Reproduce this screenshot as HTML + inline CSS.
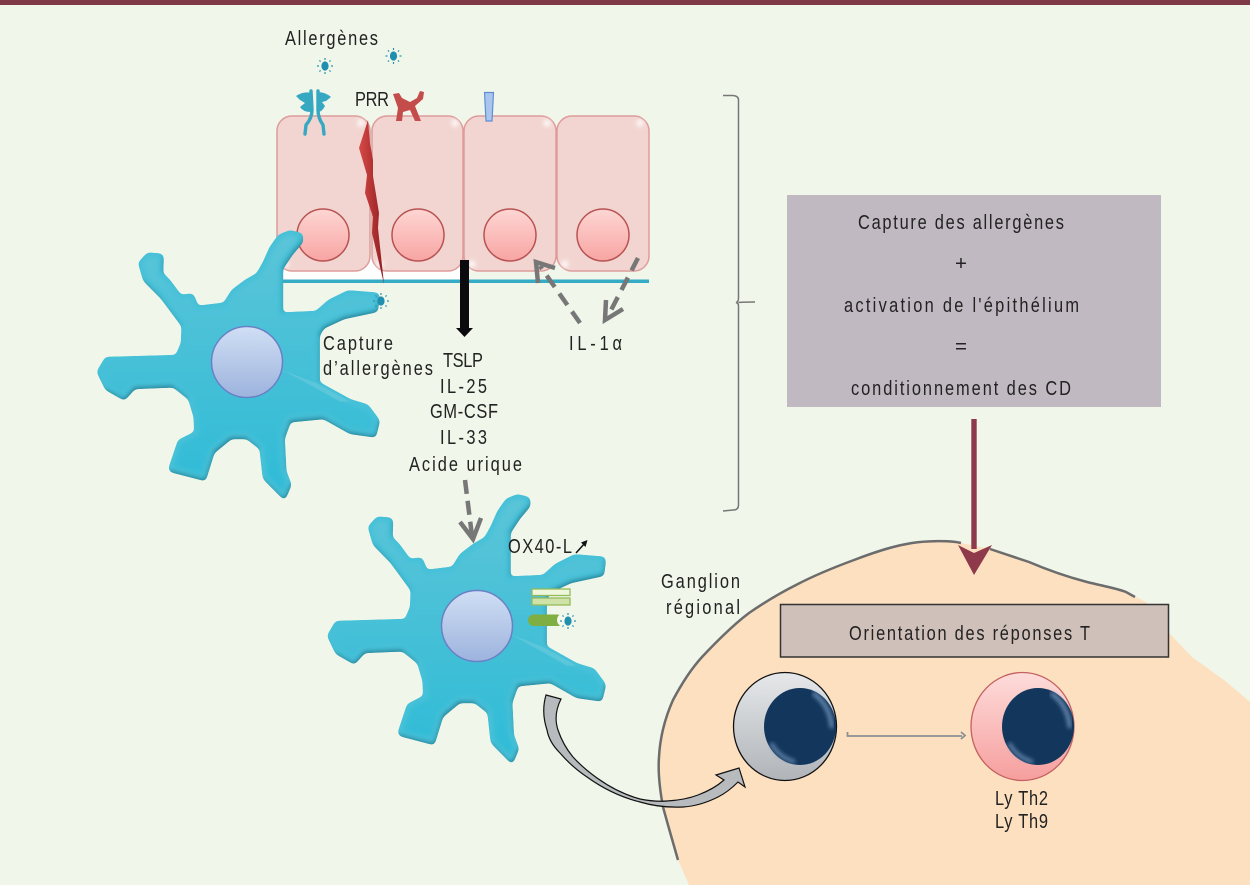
<!DOCTYPE html>
<html lang="fr"><head><meta charset="utf-8"><title>Capture des allergènes</title>
<style>
html,body{margin:0;padding:0;background:#f0f6e9}
svg{display:block}
text{font-family:"Liberation Sans",sans-serif;font-size:20.5px;fill:#222}
</style></head><body>
<svg width="1250" height="885" viewBox="0 0 1250 885" xmlns="http://www.w3.org/2000/svg">
<defs>
<linearGradient id="cy" x1="0" y1="0" x2="0" y2="1"><stop offset="0" stop-color="#5cc5d8"/><stop offset="1" stop-color="#2fbbd7"/></linearGradient>
<linearGradient id="nu" x1="0" y1="0" x2="0" y2="1"><stop offset="0" stop-color="#d0dff4"/><stop offset="1" stop-color="#9db3dd"/></linearGradient>
<linearGradient id="pk" x1="0" y1="0" x2="0" y2="1"><stop offset="0" stop-color="#fdd6d3"/><stop offset="1" stop-color="#f8a5a3"/></linearGradient>
<linearGradient id="gy" x1="0" y1="0" x2="0" y2="1"><stop offset="0" stop-color="#e6e8ea"/><stop offset="1" stop-color="#b0b4b8"/></linearGradient>
<linearGradient id="lp" x1="0" y1="0" x2="0" y2="1"><stop offset="0" stop-color="#fddcda"/><stop offset="1" stop-color="#f69f9e"/></linearGradient>
<linearGradient id="cr" x1="0" y1="0" x2="1" y2="0"><stop offset="0" stop-color="#d84a46"/><stop offset="1" stop-color="#8f1f22"/></linearGradient>
<filter id="b2"><feGaussianBlur stdDeviation="2"/></filter>
<filter id="goo" x="-5%" y="-5%" width="110%" height="110%" color-interpolation-filters="sRGB"><feGaussianBlur stdDeviation="2"/><feColorMatrix values="1 0 0 0 0 0 1 0 0 0 0 0 1 0 0 0 0 0 14 -6"/></filter>
<path id="dc" d="M630,45 L600,38 L570,50 L545,85 L525,130 L505,165 L470,185 L430,215 L405,255 L320,265 L305,228 L270,232 L235,185 L210,160 L212,108 L175,105 L152,130 L165,175 L215,225 L282,315 L280,370 L262,412 L50,418 L28,455 L50,500 L100,528 L130,495 L250,490 L300,530 L318,590 L320,640 L270,665 L243,745 L340,770 L365,690 L420,645 L470,645 L515,680 L525,770 L580,825 L595,790 L580,750 L575,650 L595,595 L700,585 L780,630 L850,640 L860,600 L830,560 L780,545 L680,490 L680,340 L695,315 L760,285 L855,265 L860,225 L775,218 L720,245 L680,280 L570,285 L570,140 L600,95 L630,60 Z"/>
<g id="al">
<ellipse cx="0" cy="0" rx="3.6" ry="4.6" fill="#1f8fb0"/>
<path d="M0,-8V-6M0,8V6M-8,0H-6M8,0H6M-5.6,-5.6L-4.4,-4.4M5.6,-5.6L4.4,-4.4M-5.6,5.6L-4.4,4.4M5.6,5.6L4.4,4.4" stroke="#2a93ad" stroke-width="1.2"/>
</g>
</defs>

<rect width="1250" height="885" fill="#f0f6e9"/>
<rect width="1250" height="5" fill="#7f3a48"/>

<!-- ganglion -->
<path d="M689,885 L678,860 L663,807 L659,757 L664,725 L673,700 L702,657 L749,613 L796,585 L854,560 L912,543 L940,541 L961,543 L990,549 L1029,562 L1087,582 L1126,592 L1146,602 L1169,633 L1192,657 L1224,680 L1250,702 L1250,885 Z" fill="#fde0c0"/>
<path d="M678,860 L668,825 L663,807 C659,785 658,770 659,757 C660,738 665,718 673,700 C682,683 692,668 702,657 C718,640 733,625 749,613 C765,602 780,593 796,585 C815,575 835,567 854,560 C875,552 893,546 912,543 C925,541 950,540 961,543" fill="none" stroke="#6c6c6c" stroke-width="2.5"/>
<path d="M990,549 L1029,562 C1050,571 1068,577 1087,582 C1103,586 1116,588 1126,592 L1135,597" fill="none" stroke="#6c6c6c" stroke-width="2.5"/>

<!-- white band -->
<rect x="280" y="255" width="185" height="25" fill="#fff"/>

<!-- epithelial cells -->
<g fill="#f2d5d1" stroke="#dd9c9b" stroke-width="1.5">
<rect x="277" y="116" width="93" height="155" rx="15"/>
<rect x="372" y="116" width="91" height="155" rx="15"/>
<rect x="464" y="116" width="92" height="155" rx="15"/>
<rect x="557" y="116" width="92" height="155" rx="15"/>
</g>
<g fill="#fff" filter="url(#b2)" opacity=".9">
<circle cx="361" cy="123" r="3.5"/><circle cx="455" cy="123" r="3.5"/><circle cx="547" cy="123" r="3.5"/><circle cx="640" cy="123" r="3.5"/>
<circle cx="285" cy="264" r="3.5"/><circle cx="380" cy="264" r="3.5"/><circle cx="472" cy="264" r="3.5"/><circle cx="565" cy="264" r="3.5"/>
</g>
<g fill="url(#pk)" stroke="#b85353" stroke-width="1.5">
<circle cx="323" cy="235" r="26"/><circle cx="418" cy="235" r="26"/><circle cx="510" cy="235" r="26"/><circle cx="603" cy="235" r="26"/>
</g>
<rect x="280" y="279.500" width="369" height="3.500" fill="#35abc6"/>

<!-- crack -->
<polygon points="368,120 359,148 367,175 365,193 373,217 372,233 384,284 378,228 379,213 373,176 373,160 370,143" fill="url(#cr)"/>

<!-- receptors -->
<g fill="none" stroke="#37a8c2" stroke-width="3.4" stroke-linecap="round" stroke-linejoin="round">
<path d="M311,91 L312,110 Q312,118 306,125 L305,134"/>
<path d="M318,91 L318,110 Q318,118 323,125 L324,134"/>
</g>
<g fill="#37a8c2">
<path d="M296,96 Q304,91 311,93 L311,112 Q303,112 300,107 L305,103 L300,100 Z"/>
<path d="M318,92 Q325,92 331,97 L326,101 L322,102 L325,106 Q322,112 318,112 Z"/>
</g>
<path d="M393,94 L399,93 L402,98 L410,102 L417,98 L420,91 L424,92 L423,99 L415,106 L421,121 L415,121 L410,110 L403,112 L402,121 L396,121 L398,108 Z" fill="#c44d4c"/>
<polygon points="484.500,92.500 493.500,92.500 492,121 486,121" fill="#a9c7ee" stroke="#5f8fd2" stroke-width="1.200"/>

<!-- black arrow -->
<polygon points="460,260 469,260 469,328 473,328 464.500,337 456,328 460,328" fill="#0b0b0e"/>

<!-- DC1 -->
<g filter="url(#goo)">
<g transform="translate(90,220) scale(.33333)">
<use href="#dc" fill="#1d6f84" stroke="#1d6f84" stroke-width="14" stroke-linejoin="round" transform="translate(2,5)"/>
<use href="#dc" fill="url(#cy)" stroke="#47c1d8" stroke-width="14" stroke-linejoin="round"/>
</g>
</g>
<g transform="translate(90,220) scale(.33333)"><path d="M578,450 L680,490 L780,545 L750,545 L660,495 Z" fill="#6ccbdc" opacity=".6"/></g>
<circle cx="247" cy="362" r="35.500" fill="url(#nu)" stroke="#6a80c6" stroke-width="1.500"/>
<use href="#al" x="381" y="301"/>

<!-- DC2 -->
<g filter="url(#goo)">
<g transform="translate(320.500,484) scale(.3283,.33333)">
<use href="#dc" fill="#1d6f84" stroke="#1d6f84" stroke-width="14" stroke-linejoin="round" transform="translate(2,5)"/>
<use href="#dc" fill="url(#cy)" stroke="#47c1d8" stroke-width="14" stroke-linejoin="round"/>
</g>
</g>
<g transform="translate(320.500,484) scale(.3283,.33333)"><path d="M578,450 L680,490 L780,545 L750,545 L660,495 Z" fill="#6ccbdc" opacity=".6"/></g>
<circle cx="477" cy="626" r="35.500" fill="url(#nu)" stroke="#6a80c6" stroke-width="1.500"/>

<!-- green bars -->
<rect x="532" y="589" width="38" height="6.500" fill="#eef6dc" stroke="#94bb5a" stroke-width="1.300"/>
<rect x="532" y="598" width="38" height="7" fill="#cfe3a8" stroke="#94bb5a" stroke-width="1.300"/>
<rect x="528" y="614.500" width="35" height="11.500" rx="5.750" fill="#7fae42"/>
<ellipse cx="561" cy="620" rx="4" ry="5.500" fill="#f4f8ee"/>
<use href="#al" x="568" y="621"/>

<!-- free allergens -->
<use href="#al" x="325" y="66"/>
<use href="#al" x="393.500" y="56"/>

<!-- dashed arrows -->
<g fill="none" stroke="#777" stroke-width="4.500">
<path d="M580,323 L540,266" stroke-dasharray="14 8"/>
<path d="M538,283 L536,262 L555,268"/>
<path d="M638,258 L607,318" stroke-dasharray="14 8"/>
<path d="M606,300 L605,320 L623,309"/>
<path d="M465,480 L472,536" stroke-dasharray="14 7"/>
<path d="M460,522 L473,539 L481,518"/>
</g>

<!-- brace -->
<path d="M723,95.500 L733,95.500 Q738.500,96 738.500,100 L738.500,298 Q738.500,302 736,302.500 Q738.500,303 738.500,306 L738.500,505 Q738.500,510 733,510 L723,511 M738.500,302.500 Q742,302 755,302" fill="none" stroke="#777" stroke-width="1.500"/>

<!-- purple box -->
<rect x="787" y="195" width="374" height="212" fill="#c1b9c1"/>
<text transform="translate(858,229) scale(.8,1)" textLength="257.5">Capture des allergènes</text>
<text x="961" y="270" text-anchor="middle">+</text>
<text transform="translate(844,312) scale(.8,1)" textLength="293.75">activation de l'épithélium</text>
<text x="961" y="353" text-anchor="middle">=</text>
<text transform="translate(851,395) scale(.8,1)" textLength="275">conditionnement des CD</text>

<!-- red arrow -->
<rect x="971.300" y="419" width="5.400" height="130" fill="#8e3a4b"/>
<polygon points="958,545 974,553 992,545 974,575" fill="#8e3a4b"/>

<!-- orientation box -->
<rect x="780.500" y="604.500" width="388" height="52.500" fill="#cfc0ba" stroke="#333" stroke-width="1.500"/>
<text transform="translate(849,640) scale(.8,1)" textLength="301.25">Orientation des réponses T</text>

<!-- lymphocytes -->
<ellipse cx="785" cy="726.500" rx="51.500" ry="54" fill="url(#gy)" stroke="#111" stroke-width="1.300"/>
<ellipse cx="800" cy="726.500" rx="36" ry="38.500" fill="#12365c"/>
<path d="M813,693 Q830,705 832,728" fill="none" stroke="#7c9cc2" stroke-width="4" opacity=".85" filter="url(#b2)"/>
<path d="M771,743 Q778,757 795,762" fill="none" stroke="#7c9cc2" stroke-width="3.500" opacity=".85" filter="url(#b2)"/>
<ellipse cx="1022.500" cy="726.500" rx="51.500" ry="54" fill="url(#lp)" stroke="#c46060" stroke-width="1.300"/>
<ellipse cx="1038" cy="726.500" rx="36" ry="38.500" fill="#12365c"/>
<path d="M1051,693 Q1068,705 1070,728" fill="none" stroke="#7c9cc2" stroke-width="4" opacity=".85" filter="url(#b2)"/>
<path d="M1009,743 Q1016,757 1033,762" fill="none" stroke="#7c9cc2" stroke-width="3.500" opacity=".85" filter="url(#b2)"/>

<!-- thin arrow -->
<path d="M847.500,732 V736 H962 M961,732 L965,735.500 L961,739" fill="none" stroke="#8a9094" stroke-width="1.800"/>

<!-- curved arrow -->
<path d="M546,695 L561,699 Q553,715 558,730 Q563,745 573,757 Q583,768 597,778 Q618,793 640,799 Q655,802 667,801 Q685,800 698,795 Q714,789 724,780 L716,775 L739,768 L745,787 L738,782 Q728,792 718,797 Q700,806 683,807 Q660,808 640,802 Q612,795 587,777 Q572,767 560,753 Q549,742 547,730 Q541,712 546,695 Z" fill="#b8bbbd" stroke="#111" stroke-width="1.200" stroke-linejoin="miter"/>

<!-- labels -->
<text transform="translate(285,45) scale(.8,1)" textLength="116.25">Allergènes</text>
<text transform="translate(355,106) scale(.8,1)" textLength="42.5">PRR</text>
<text transform="translate(323,350) scale(.8,1)" textLength="87.5">Capture</text>
<text transform="translate(323,375) scale(.8,1)" textLength="137.5">d’allergènes</text>
<text transform="translate(443,367) scale(.8,1)" textLength="50">TSLP</text>
<text transform="translate(440,393) scale(.8,1)" textLength="58.75">IL-25</text>
<text transform="translate(430,418) scale(.8,1)" textLength="85">GM-CSF</text>
<text transform="translate(440,444) scale(.8,1)" textLength="58.75">IL-33</text>
<text transform="translate(409,471) scale(.8,1)" textLength="141.25">Acide urique</text>
<text transform="translate(569,350) scale(.8,1)" textLength="66.25">IL-1α</text>
<text transform="translate(508,553) scale(.8,1)" textLength="80">OX40-L</text>
<path d="M576,553 L585,543" stroke="#111" stroke-width="1.500"/>
<polygon points="587.500,540 581,542.500 585.500,547" fill="#111"/>
<text transform="translate(661,588) scale(.8,1)" textLength="98.75">Ganglion</text>
<text transform="translate(666,614) scale(.8,1)" textLength="92.5">régional</text>
<text transform="translate(995,805) scale(.8,1)" textLength="66.25">Ly Th2</text>
<text transform="translate(995,828) scale(.8,1)" textLength="66.25">Ly Th9</text>
</svg>
</body></html>
